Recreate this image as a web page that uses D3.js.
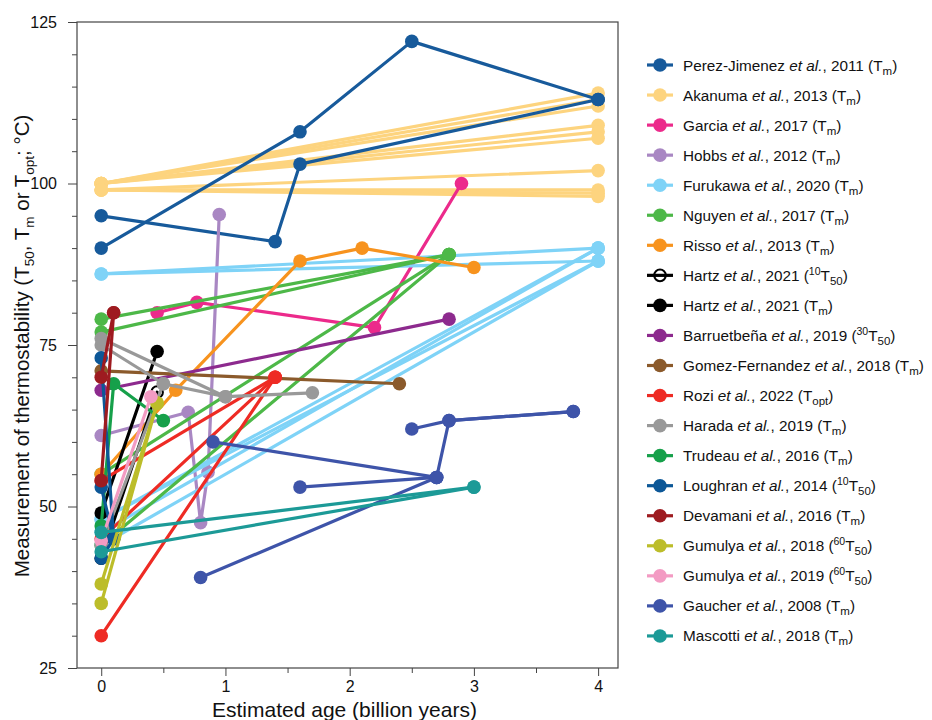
<!DOCTYPE html>
<html><head><meta charset="utf-8">
<script src="https://cdn.jsdelivr.net/npm/d3@7"></script>
<style>
body{margin:0;background:#fff}
text{font-family:"Liberation Sans",Arial,Helvetica,sans-serif;fill:#111}
</style>
</head><body>
<svg id="c" width="932" height="720"></svg>
<script>
// ---------- DATA (age in billion years, thermostability in °C) ----------
const perezJimenez = [[[0,90],[1.6,108],[2.5,122],[4,113]], [[0,95],[1.4,91],[1.6,103],[4,113]]];
const akanuma = [[[0,100],[4,114]],[[0,100],[4,113]],[[0,100],[4,112]],[[0,100],[4,109]],[[0,100],[4,108]],[[0,100],[4,107]],[[0,99],[4,102]],[[0,99],[4,99]],[[0,99],[4,98.5]],[[0,99],[4,98]]];
const garcia = [[[0.45,80],[0.77,81.6],[2.2,77.7],[2.9,100]]];
const hobbs = [[[0,61],[0.7,64.6],[0.8,47.5],[0.86,55.3],[0.95,95.2]]];
const furukawa = [[[0,86],[4,90]],[[0,86],[4,88]],[[0,48],[4,90]],[[0,48],[4,88]],[[0,46],[4,90]],[[0,44],[4,88]]];
const nguyen = [[[0,79],[2.8,89]],[[0,77],[2.8,89]],[[0,55],[2.8,89]],[[0,44],[2.8,89]]];
const risso = [[[0,55],[0.6,68],[1.6,88],[2.1,90],[3.0,87]]];
const hartz10 = [[[0,42],[0.45,67.7]]];
const hartzTm = [[[0,49],[0.45,74]]];
const barruetbena = [[[0,68],[2.8,79]]];
const gomezFernandez = [[[0,71],[2.4,69]]];
const rozi = [[[0,30],[1.4,70]],[[0,45],[1.4,70]],[[0,54],[1.4,70]]];
const harada = [[[0,75],[0.5,69],[1.0,67]],[[0,76],[1.0,67],[1.7,67.6]],[[0,44],[0.5,69]]];
const trudeau = [[[0,47],[0.1,69],[0.5,63.3]]];
const loughran = [[[0,73],[0.1,45]],[[0,53],[0.1,45]],[[0,42],[0.1,45]]];
const devamani = [[[0,70],[0.1,80]],[[0,54],[0.1,80]]];
const gumulya2018 = [[[0,38],[0.45,66]],[[0,35],[0.45,66]]];
const gumulya2019 = [[[0,44.7],[0.4,67]]];
const gaucher = [[[0.9,60],[2.7,54.5],[2.8,63.3],[3.8,64.7]],[[1.6,53],[2.7,54.5]],[[0.8,39],[2.7,54.5]],[[2.5,62],[2.8,63.3],[3.8,64.7]]];
const mascotti = [[[0,46],[3,53]],[[0,43],[3,53]]];

const seriesData = [perezJimenez, akanuma, garcia, hobbs, furukawa, nguyen, risso, hartz10, hartzTm, barruetbena, gomezFernandez, rozi, harada, trudeau, loughran, devamani, gumulya2018, gumulya2019, gaucher, mascotti];
const authors = ["Perez-Jimenez","Akanuma","Garcia","Hobbs","Furukawa","Nguyen","Risso","Hartz","Hartz","Barruetbeña","Gomez-Fernandez","Rozi","Harada","Trudeau","Loughran","Devamani","Gumulya","Gumulya","Gaucher","Mascotti"];
const years = ["2011","2013","2017","2012","2020","2017","2013","2021","2021","2019","2018","2022","2019","2016","2014","2016","2018","2019","2008","2018"];
const measSup = ["","","","","","","","10","","30","","","","","10","","60","60","",""];
const measSub = ["m","m","m","m","m","m","m","50","m","50","m","opt","m","m","50","m","50","50","m","m"];
const xMajorTicks = [0,1,2,3,4];
const xMinorTicks = [0.5,1.5,2.5,3.5];
const yMajorTicks = [25,50,75,100,125];
const yMinorTicks = [30,35,40,45,55,60,65,70,80,85,90,95,105,110,115,120];

// ---------- STYLE ----------
const colors = ["#175a9b","#fdd47f","#ec2a8b","#a987c3","#7fd3f7","#4db848","#f7931e","#000","#000","#8d2a8e","#8b5a2b","#ee2b24","#999999","#16a04a","#0c5797","#9e1b20","#bcbd2a","#f39bc3","#3e54a9","#1c9a97"];
const openMarker = [false,false,false,false,false,false,false,true,false,false,false,false,false,false,false,false,false,false,false,false];
const drawOrder = [1,0,2,3,4,5,6,7,8,9,10,11,12,13,14,15,16,17,18,19];

const svg = d3.select("#c");
const L = 77, R = 618, T = 22, B = 668;
const x = d3.scaleLinear().domain([-0.195, 4.16]).range([L, R]);
const y = d3.scaleLinear().domain([25, 125]).range([B, T]);

// axes
const axCol = "#444";
const gx = svg.append("g").attr("transform", `translate(0,${B})`)
  .call(d3.axisBottom(x).tickValues(xMajorTicks).tickSize(8).tickPadding(5).tickSizeOuter(0).tickFormat(d3.format("d")));
const gxm = svg.append("g").attr("transform", `translate(0,${B})`)
  .call(d3.axisBottom(x).tickValues(xMinorTicks).tickSize(5).tickSizeOuter(0).tickFormat(""));
const gy = svg.append("g").attr("transform", `translate(${L},0)`)
  .call(d3.axisLeft(y).tickValues(yMajorTicks).tickSize(9).tickPadding(11).tickSizeOuter(0));
const gym = svg.append("g").attr("transform", `translate(${L},0)`)
  .call(d3.axisLeft(y).tickValues(yMinorTicks).tickSize(5).tickSizeOuter(0).tickFormat(""));
[gx,gxm,gy,gym].forEach(g => { g.select(".domain").remove(); g.selectAll("line").attr("stroke", axCol); g.selectAll("text").attr("font-size", 16).attr("fill","#222").style("font-family",'"Liberation Sans",Arial,sans-serif'); });

svg.append("rect").attr("x", L).attr("y", T).attr("width", R - L).attr("height", B - T)
  .attr("fill", "none").attr("stroke", axCol).attr("stroke-width", 1.2);

// axis titles
svg.append("text").attr("x", (L + R) / 2 - 3).attr("y", 717).attr("text-anchor", "middle").attr("font-size", 21)
  .text("Estimated age (billion years)");
const yt = svg.append("text").attr("transform", "translate(29,346) rotate(-90)").attr("text-anchor", "middle").attr("font-size", 20.5);
yt.append("tspan").text("Measurement of thermostability (T");
yt.append("tspan").attr("font-size", 13.5).attr("dy", 5).text("50");
yt.append("tspan").attr("dy", -5).text(", T");
yt.append("tspan").attr("font-size", 13.5).attr("dy", 5).text("m");
yt.append("tspan").attr("dy", -5).text(" or T");
yt.append("tspan").attr("font-size", 13.5).attr("dy", 5).text("opt");
yt.append("tspan").attr("dy", -5).text("; °C)");

// data
const line = d3.line().x(d => x(d[0])).y(d => y(d[1]));
const plot = svg.append("g");
drawOrder.forEach(i => {
  const g = plot.append("g");
  g.selectAll("path").data(seriesData[i]).join("path")
    .attr("d", line).attr("fill", "none").attr("stroke", colors[i])
    .attr("stroke-width", 3.2).attr("stroke-linejoin", "round").attr("stroke-linecap", "round");
  const pts = seriesData[i].flat();
  g.selectAll("circle").data(pts).join("circle")
    .attr("cx", d => x(d[0])).attr("cy", d => y(d[1])).attr("r", openMarker[i] ? 5.8 : 6.8)
    .attr("fill", openMarker[i] ? "none" : colors[i])
    .attr("stroke", openMarker[i] ? colors[i] : "none").attr("stroke-width", 2);
});

// legend
const lg = svg.append("g");
seriesData.forEach((s, i) => {
  const cy = 65 + i * 30.05;
  const g = lg.append("g");
  g.append("line").attr("x1", 647).attr("x2", 673).attr("y1", cy).attr("y2", cy)
    .attr("stroke", colors[i]).attr("stroke-width", 3.2);
  g.append("circle").attr("cx", 660).attr("cy", cy).attr("r", openMarker[i] ? 5.8 : 6.8)
    .attr("fill", openMarker[i] ? "#fff" : colors[i]).attr("fill-opacity", openMarker[i] ? 0 : 1)
    .attr("stroke", openMarker[i] ? colors[i] : "none").attr("stroke-width", 2);
  const t = g.append("text").attr("x", 683).attr("y", cy + 5.5).attr("font-size", 15.3);
  t.append("tspan").text(authors[i] + " ");
  t.append("tspan").attr("font-style", "italic").text("et al.");
  t.append("tspan").text(", " + years[i] + " (");
  if (measSup[i]) {
    t.append("tspan").attr("font-size", 10.5).attr("dy", -6).text(measSup[i]);
    t.append("tspan").attr("dy", 6).text("T");
  } else {
    t.append("tspan").text("T");
  }
  t.append("tspan").attr("font-size", 11.5).attr("dy", 4).text(measSub[i]);
  t.append("tspan").attr("dy", -4).text(")");
});
</script>
</body></html>
